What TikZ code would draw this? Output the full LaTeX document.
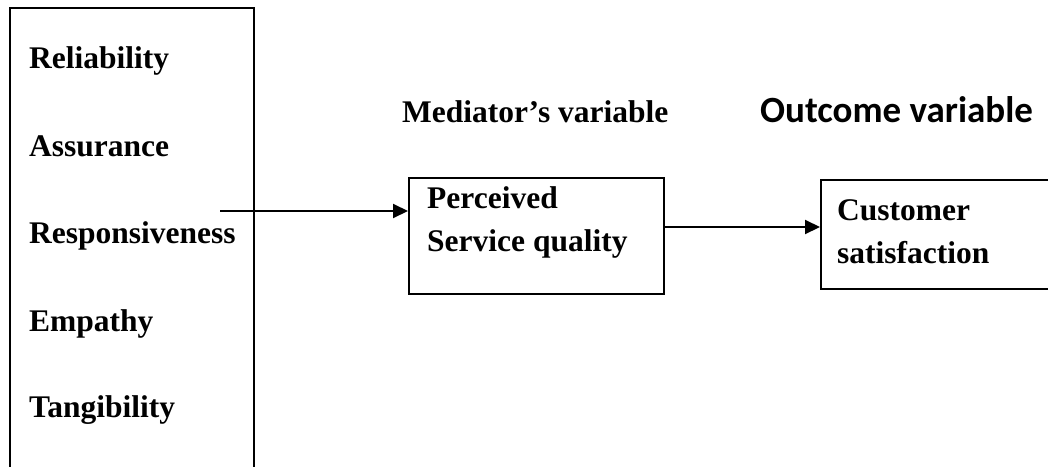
\documentclass[tikz,border=0pt]{standalone}
\usepackage{fontspec}
\setmainfont{Liberation Serif}
\newfontfamily\calfont{Carlito}
\usetikzlibrary{arrows.meta, positioning, calc}

\begin{document}
\begin{tikzpicture}[
  x=1pt, y=-1pt,
  every node/.style={font=\fontsize{31.5}{43}\selectfont\bfseries},
  frame/.style={rectangle, draw, line width=2pt, inner sep=0pt,
                anchor=north west},
  lbl/.style={inner sep=0pt, anchor=base west},
  txt/.style={inner sep=0pt, anchor=north west, align=left},
  arr/.style={-{Triangle[length=15pt, width=14pt]}, line width=2pt},
]
\useasboundingbox (0,0) rectangle (1048,466);

% dimensions box (open at the bottom of the page)
\node[frame, minimum width=244pt, minimum height=480pt] (dims) at (9,7) {};
\node[lbl] (rel) at (29,68)  {Reliability};
\node[lbl] (asr) at (29,156) {Assurance};
\node[lbl] (rsp) at (29,243) {Responsiveness};
\node[lbl] (emp) at (29,331) {Empathy};
\node[lbl] (tng) at (29,417) {Tangibility};

% headings
\node[lbl] (medhd) at (402,122) {Mediator’s variable};
\node[lbl, font=\calfont\fontsize{37}{44}\selectfont\bfseries]
  (outhd) at (760,122) {Outcome variable};

% mediator and outcome boxes
\node[frame, minimum width=255pt, minimum height=116pt] (pq) at (408,177) {};
\node[txt] (pqtext) at (427,186) {Perceived\\Service quality};
\node[frame, minimum width=250pt, minimum height=109pt] (cs) at (820,179) {};
\node[txt] (cstext) at (837,199) {Customer\\satisfaction};

\coordinate (src) at (220,211);
\draw[arr] (src) -- (src -| pq.west);
\draw[arr] ([yshift=9pt]pq.east) -- ([yshift=9pt]pq.east -| cs.west);
\end{tikzpicture}
\end{document}
